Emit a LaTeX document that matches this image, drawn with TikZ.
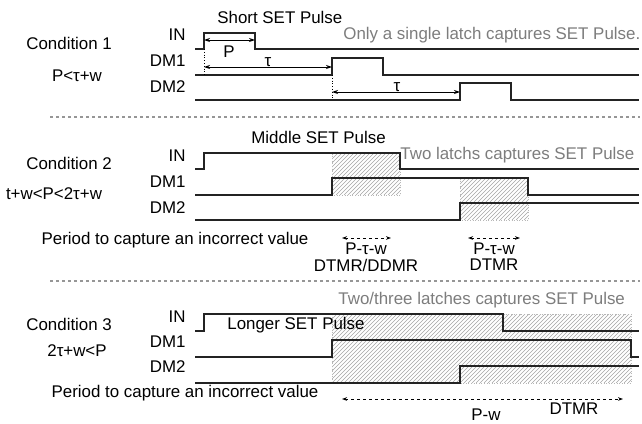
\documentclass[tikz,border=0pt]{standalone}
\usepackage{fontspec}
\setmainfont{Liberation Sans}
\usetikzlibrary{arrows.meta}
\definecolor{capGray}  {RGB}{125, 125, 125}
\definecolor{sepGray}  {RGB}{150, 150, 150}
\definecolor{hatchGray}{RGB}{165, 165, 165}
\definecolor{waveDark} {RGB}{35,  35,  35}

\newcommand{\hatchbox}[4]{%
  \begin{scope}
    \clip (#1,#2) rectangle (#3,#4);
    \foreach \k in {-80,-76,...,300}
      \draw[hatchline] (#1+\k,#4) -- ++(90,-90);
  \end{scope}
  \draw[hatchedge] (#1,#2) rectangle (#3,#4);}

\begin{document}
\begin{tikzpicture}[x=0.5pt, y=-0.5pt,
  font=\fontsize{8.45}{10}\selectfont,
  wave/.style={draw=waveDark, line width=0.6pt},
  dim/.style={line width=0.45pt, {Stealth[length=3pt,width=2pt]}-{Stealth[length=3pt,width=2pt]}},
  period/.style={line width=0.45pt, dash pattern=on 1.5pt off 1.5pt,
    {Stealth[length=2.5pt,width=1.8pt]}-{Stealth[length=2.5pt,width=1.8pt]}},
  hatchline/.style={draw=hatchGray, line width=0.28pt},
  hatchedge/.style={draw=hatchGray!80, densely dotted, line width=0.3pt},
  sep/.style={draw=sepGray, line width=0.6pt, dash pattern=on 1.6pt off 1.4pt},
  txt/.style={inner sep=0pt},
  note/.style={inner sep=0pt, text=capGray}]
  \useasboundingbox[fill=white] (0,0) rectangle (642,423);

  \def\tS{195} \def\tA{204} \def\tB{255} \def\tC{332} \def\tD{383}
  \def\tE{460} \def\tF{511} \def\tG{400} \def\tH{528} \def\tI{503}
  \def\tJ{631} \def\tZ{639}

  % condition 1
  \node[txt, anchor=west] (c1)     at (26,43)  {Condition 1};
  \node[txt]              (c1rule) at (77,76)  {P<τ+w};
  \node[txt, anchor=east] (c1in)   at (186,35) {IN};
  \node[txt, anchor=east] (c1dm1)  at (186,61) {DM1};
  \node[txt, anchor=east] (c1dm2)  at (186,87) {DM2};
  \node[txt, anchor=west] (c1pulse) at (217,17) {Short SET Pulse};
  \node[note, anchor=west] (c1note) at (343,35) {Only a single latch captures SET Pulse.};

  \draw[wave] (\tS,49) -- (\tA,49) -- (\tA,33) -- (\tB,33) -- (\tB,49) -- (\tZ,49);
  \draw[wave] (\tS,75) -- (\tC,75) -- (\tC,58) -- (\tD,58) -- (\tD,75) -- (\tZ,75);
  \draw[wave] (\tS,100) -- (\tE,100) -- (\tE,83) -- (\tF,83) -- (\tF,100) -- (\tZ,100);
  \draw[densely dotted, line width=0.4pt] (\tA,49) -- (\tA,75);
  \draw[densely dotted, line width=0.4pt] (\tC,75) -- (\tC,100);

  \coordinate (p1) at (\tA,40);
  \coordinate (p2) at (\tB,40);
  \coordinate (d1) at (\tA,67);
  \coordinate (d2) at (\tC,67);
  \coordinate (d3) at (\tC,92);
  \coordinate (d4) at (\tE,92);
  \draw[dim] (p1) -- (p2);
  \draw[dim] (d1) -- (d2);
  \draw[dim] (d3) -- (d4);
  \node[txt] (plen) at (229,52) {P};
  \node[txt] (tau1) at (268,62) {τ};
  \node[txt] (tau2) at (397,87) {τ};

  \draw[sep] (50,117) -- (640,117);

  % condition 2
  \node[txt, anchor=west] (c2)     at (26,163)  {Condition 2};
  \node[txt]              (c2rule) at (54,194)  {t+w<P<2τ+w};
  \node[txt, anchor=east] (c2in)   at (186,156) {IN};
  \node[txt, anchor=east] (c2dm1)  at (186,182) {DM1};
  \node[txt, anchor=east] (c2dm2)  at (186,208) {DM2};
  \node[txt, anchor=west] (c2pulse) at (251,137) {Middle SET Pulse};
  \node[note, anchor=west] (c2note) at (400,155) {Two latchs captures SET Pulse};

  \hatchbox{\tC}{153}{\tG}{195}
  \hatchbox{\tE}{178}{\tH}{220}
  \draw[wave] (\tS,169) -- (\tA,169) -- (\tA,153) -- (\tG,153) -- (\tG,169) -- (\tZ,169);
  \draw[wave] (\tS,195) -- (\tC,195) -- (\tC,178) -- (\tH,178) -- (\tH,195) -- (\tZ,195);
  \draw[wave] (\tS,220) -- (\tE,220) -- (\tE,203) -- (\tZ,203);

  \node[txt] (c2period) at (175,240) {Period to capture an incorrect value};
  \coordinate (q1) at (342,238);
  \coordinate (q2) at (391,238);
  \coordinate (q3) at (468,238);
  \coordinate (q4) at (520,238);
  \draw[period] (q1) -- (q2);
  \draw[period] (q3) -- (q4);
  \node[txt] (c2w1) at (366,249) {P-τ-w};
  \node[txt] (c2m1) at (366,265) {DTMR/DDMR};
  \node[txt] (c2w2) at (494,249) {P-τ-w};
  \node[txt] (c2m2) at (494,265) {DTMR};

  \draw[sep] (50,281) -- (640,281);

  % condition 3
  \node[txt, anchor=west] (c3)     at (26,324)  {Condition 3};
  \node[txt]              (c3rule) at (77,351)  {2τ+w<P};
  \node[txt, anchor=east] (c3in)   at (186,317) {IN};
  \node[txt, anchor=east] (c3dm1)  at (186,342) {DM1};
  \node[txt, anchor=east] (c3dm2)  at (186,367) {DM2};
  \node[note, anchor=west] (c3note) at (338,300) {Two/three latches captures SET Pulse};

  \hatchbox{\tC}{314}{\tJ}{383}
  \draw[wave] (\tS,331) -- (\tA,331) -- (\tA,314) -- (\tI,314) -- (\tI,331) -- (\tZ,331);
  \draw[wave] (\tS,357) -- (\tC,357) -- (\tC,340) -- (\tJ,340) -- (\tJ,357) -- (\tZ,357);
  \draw[wave] (\tS,383) -- (\tE,383) -- (\tE,366) -- (\tZ,366);
  \node[txt, anchor=west] (c3pulse) at (227,325) {Longer SET Pulse};

  \node[txt] (c3period) at (185,393) {Period to capture an incorrect value};
  \coordinate (r1) at (342,399);
  \coordinate (r2) at (623,399);
  \draw[period] (r1) -- (r2);
  \node[txt] (c3w) at (486,415) {P-w};
  \node[txt] (c3m) at (574,409) {DTMR};
\end{tikzpicture}
\end{document}
